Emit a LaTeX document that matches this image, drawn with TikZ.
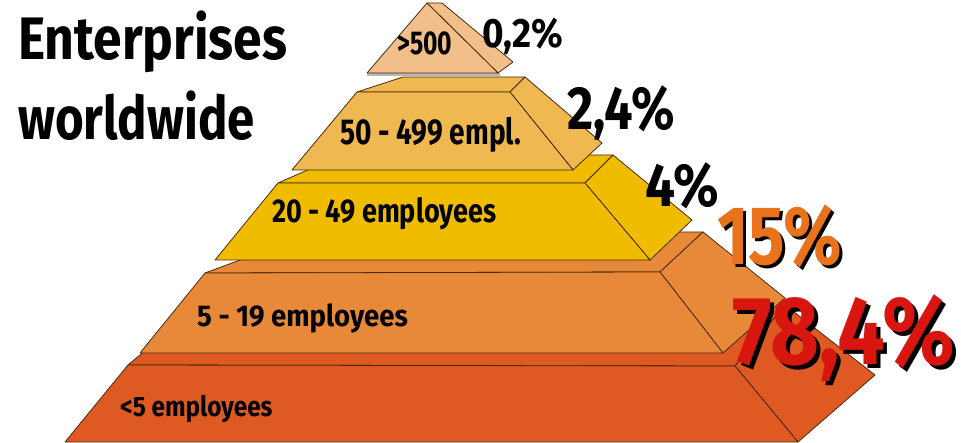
\documentclass[tikz,border=0pt]{standalone}
\usepackage{fontspec}
\setmainfont{Fira Sans}
\usetikzlibrary{positioning}
\definecolor{tierOne}{HTML}{F2BE8A}
\definecolor{tierTwo}{HTML}{F0B850}
\definecolor{tierThree}{HTML}{F0BC00}
\definecolor{tierFour}{HTML}{E8893A}
\definecolor{tierFive}{HTML}{DF5A22}
\definecolor{edgeBrown}{HTML}{4A2A0A}
\definecolor{shareOrange}{HTML}{E8731A}
\definecolor{shareRed}{HTML}{D8160F}
\newcommand{\narrowed}[2]{\scalebox{#1}[1]{#2}}
\tikzstyle{face} = [draw=edgeBrown, line width=0.8pt, line join=round]
\tikzstyle{tierlabel} = [anchor=base west, inner sep=0pt, font=\bfseries]
\tikzstyle{share} = [anchor=base west, inner sep=0pt]
\tikzstyle{title} = [anchor=base west, inner sep=0pt, font=\bfseries\fontsize{60pt}{60pt}\selectfont]

\begin{document}
\begin{tikzpicture}[x=1pt, y=-1pt]
	\useasboundingbox (0,0) rectangle (961,443);
	% bottom tier
	\filldraw[face, fill=tierFive] (128,365) -- (200,305) -- (785,305) -- (735,366) -- cycle;
	\filldraw[face, fill=tierFive] (735,366) -- (785,305) -- (875,375) -- (798,442) -- cycle;
	\filldraw[face, fill=tierFive] (65,442) -- (798,442) -- (735,366) -- (128,365) -- cycle;
	% 5 - 19
	\filldraw[face, fill=tierFour] (205,273) -- (316,232) -- (703,232) -- (660,272) -- cycle;
	\filldraw[face, fill=tierFour] (660,272) -- (703,232) -- (785,298) -- (723,353) -- cycle;
	\filldraw[face, fill=tierFour] (140,353) -- (723,353) -- (660,272) -- (205,273) -- cycle;
	% 20 - 49
	\filldraw[face, fill=tierThree] (278,183) -- (342,155) -- (613,155) -- (585,183) -- cycle;
	\filldraw[face, fill=tierThree] (585,183) -- (613,155) -- (692,220) -- (650,260) -- cycle;
	\filldraw[face, fill=tierThree] (215,260) -- (650,260) -- (585,183) -- (278,183) -- cycle;
	% 50 - 499
	\filldraw[face, fill=tierTwo] (357,92) -- (403,77) -- (525,77) -- (510,92) -- cycle;
	\filldraw[face, fill=tierTwo] (510,92) -- (525,77) -- (602,143) -- (573,170) -- cycle;
	\filldraw[face, fill=tierTwo] (292,170) -- (573,170) -- (510,92) -- (357,92) -- cycle;
	% top
	\fill[gray!55] (367,73) rectangle (500,76);
	\filldraw[face, fill=tierOne] (427,3) -- (442,3) -- (513,62) -- (498,73) -- cycle;
	\filldraw[face, fill=tierOne] (367,73) -- (498,73) -- (427,3) -- cycle;

	% title
	\node[title] (TitleTop) at (18,60) {\narrowed{0.86}{Enterprises}};
	\node[title] (TitleBottom) at (18,140) {\narrowed{0.82}{worldwide}};

	% tier labels
	\node[tierlabel, font=\bfseries\fontsize{33pt}{33pt}\selectfont] (LabelOne) at (397,55) {\narrowed{0.75}{>500}};
	\node[tierlabel, font=\bfseries\fontsize{36pt}{36pt}\selectfont] (LabelTwo) at (340,145) {\narrowed{0.78}{50 - 499 empl.}};
	\node[tierlabel, font=\bfseries\fontsize{33pt}{33pt}\selectfont] (LabelThree) at (272,223) {\narrowed{0.82}{20 - 49 employees}};
	\node[tierlabel, font=\bfseries\fontsize{30pt}{30pt}\selectfont] (LabelFour) at (197,327) {\narrowed{0.92}{5 - 19 employees}};
	\node[tierlabel, font=\bfseries\fontsize{28pt}{28pt}\selectfont] (LabelFive) at (120,417) {\narrowed{0.87}{<5 employees}};

	% shares
	\node[share, font=\bfseries\fontsize{41pt}{41pt}\selectfont] (ShareOne) at (482,48) {\narrowed{0.9}{0,2\%}};
	\node[share, font=\bfseries\fontsize{61pt}{61pt}\selectfont] (ShareTwo) at (567,130) {\narrowed{0.83}{2,4\%}};
	\node[share, font=\bfseries\fontsize{61pt}{61pt}\selectfont] (ShareThree) at (645,207) {\narrowed{0.87}{4\%}};
	\node[share, font=\bfseries\fontsize{83pt}{83pt}\selectfont] (ShareFourShadow) at (720,268) {\narrowed{0.82}{15\%}};
	\node[share, font=\bfseries\fontsize{83pt}{83pt}\selectfont, text=shareOrange] (ShareFour) at ([shift={(-3,-3)}]ShareFourShadow.base west) {\narrowed{0.82}{15\%}};
	\node[share, font=\bfseries\fontsize{97pt}{97pt}\selectfont] (ShareFiveShadow) at (736,369) {\narrowed{0.87}{78,4\%}};
	\node[share, font=\bfseries\fontsize{97pt}{97pt}\selectfont, text=shareRed] (ShareFive) at ([shift={(-4,-4)}]ShareFiveShadow.base west) {\narrowed{0.87}{78,4\%}};
\end{tikzpicture}
\end{document}
